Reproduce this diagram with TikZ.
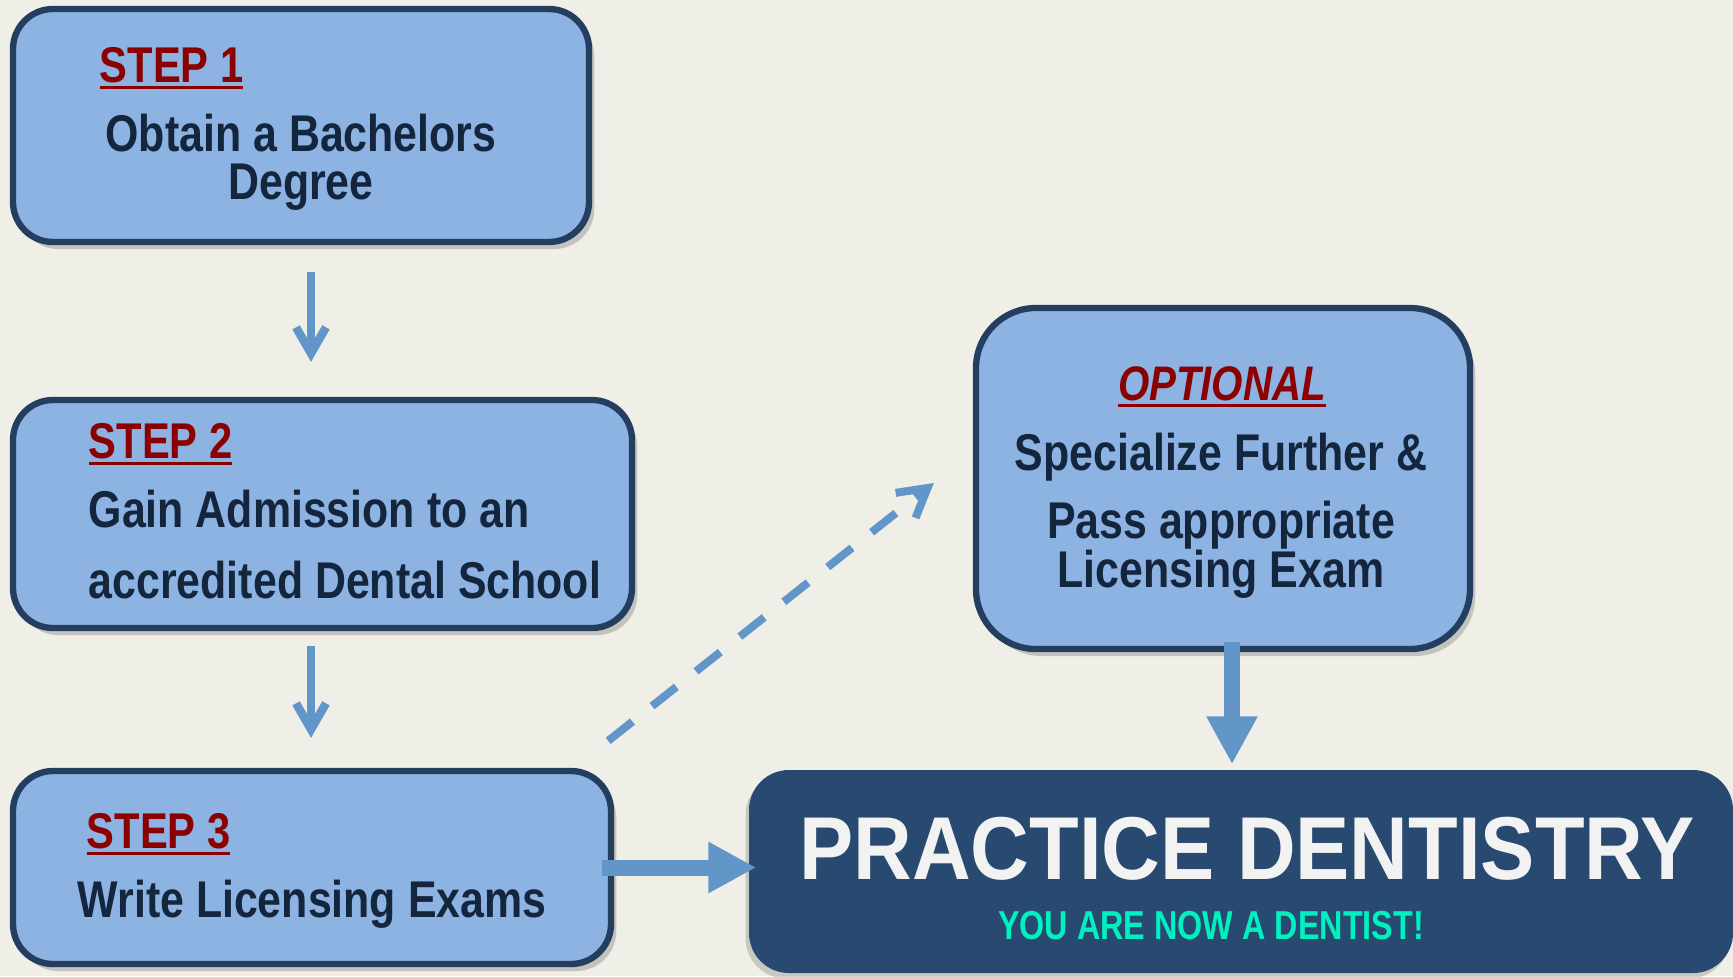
\documentclass[tikz,border=0pt]{standalone}
\usepackage{fontspec}
\setmainfont{Liberation Sans}
\newfontfamily\stepfont[FakeStretch=0.83]{Liberation Sans}
\newfontfamily\titlefont[FakeStretch=0.91]{Liberation Sans}
\newfontfamily\subfont[FakeStretch=0.8]{Liberation Sans}
\usetikzlibrary{arrows.meta,shadows}
\definecolor{bgcol}{RGB}{240,239,231}
\definecolor{boxfill}{RGB}{141,179,226}
\definecolor{boxline}{RGB}{36,62,96}
\definecolor{darkbox}{RGB}{40,74,112}
\definecolor{arrowcol}{RGB}{98,150,201}
\definecolor{steptext}{RGB}{139,0,0}
\definecolor{bodytext}{RGB}{20,37,62}
\definecolor{mintcol}{RGB}{0,240,192}
\newcommand{\stepline}[1]{\setbox0\hbox{#1}\rlap{\rule[-2pt]{\wd0}{0.85pt}}\box0}
\begin{document}
\begin{tikzpicture}[
  stepbox/.style={draw=boxline, line width=1.8pt, fill=boxfill, rounded corners=0.4cm,
    drop shadow={shadow xshift=1.5pt, shadow yshift=-2pt, opacity=0.4}},
  practicebox/.style={fill=darkbox, rounded corners=0.4cm,
    drop shadow={shadow xshift=-1pt, shadow yshift=-1.5pt, opacity=0.35}},
  steplabel/.style={text=steptext, inner sep=0pt, font=\stepfont\bfseries\fontsize{14.3}{17}\selectfont},
  optlabel/.style={text=steptext, inner sep=0pt, font=\stepfont\bfseries\itshape\fontsize{13.8}{17}\selectfont},
  bodyline/.style={text=bodytext, inner sep=0pt, font=\stepfont\bfseries\fontsize{14.7}{17}\selectfont},
  thinarrow/.style={draw=arrowcol, line width=0.085cm, -{Straight Barb[length=0.26cm, width=0.3cm]}},
  fatarrow/.style={draw=arrowcol, line width=0.16cm, -{Triangle[length=0.48cm, width=0.48cm]}},
  dashline/.style={draw=arrowcol, line width=0.08cm, dash pattern=on 0.31cm off 0.25cm,
    -{Straight Barb[length=0.28cm, width=0.32cm]}}]
\useasboundingbox (0,0) rectangle (17.33,-9.76);
\fill[bgcol] (0,0) rectangle (17.33,-9.76);

% boxes
\node[stepbox, minimum width=5.76cm, minimum height=2.33cm] (box1) at (3.01,-1.255) {};
\node[stepbox, minimum width=6.19cm, minimum height=2.28cm] (box2) at (3.225,-5.14) {};
\node[stepbox, minimum width=5.98cm, minimum height=1.93cm] (box3) at (3.12,-8.675) {};
\node[stepbox, rounded corners=0.6cm, minimum width=4.94cm, minimum height=3.41cm] (optbox) at (12.23,-4.785) {};
\node[practicebox, minimum width=9.84cm, minimum height=2.03cm] (practice) at (12.41,-8.715) {};

% texts
\node[steplabel, anchor=base west] (s1) at (0.99,-0.82) {\stepline{STEP 1}};
\node[bodyline, anchor=base] (t1a) at (3.01,-1.51) {Obtain a Bachelors};
\node[bodyline, anchor=base] (t1b) at (3.01,-1.99) {Degree};
\node[steplabel, anchor=base west] (s2) at (0.88,-4.58) {\stepline{STEP 2}};
\node[bodyline, anchor=base west] (t2a) at (0.88,-5.27) {Gain Admission to an};
\node[bodyline, anchor=base west] (t2b) at (0.88,-5.98) {accredited Dental School};
\node[steplabel, anchor=base west] (s3) at (0.86,-8.48) {\stepline{STEP 3}};
\node[bodyline, anchor=base west] (t3) at (0.77,-9.17) {Write Licensing Exams};
\node[optlabel, anchor=base] (opt) at (12.22,-4.00) {\stepline{OPTIONAL}};
\node[bodyline, anchor=base] (t4a) at (12.21,-4.70) {Specialize Further \&};
\node[bodyline, anchor=base] (t4b) at (12.21,-5.38) {Pass appropriate};
\node[bodyline, anchor=base] (t4c) at (12.21,-5.87) {Licensing Exam};
\node[anchor=base, inner sep=0pt, text={rgb,255:red,242;green,242;blue,242},
  font=\titlefont\bfseries\fontsize{25.4}{30}\selectfont] (title) at (12.47,-8.79) {PRACTICE DENTISTRY};
\node[anchor=base, inner sep=0pt, text=mintcol,
  font=\subfont\bfseries\fontsize{11.5}{14}\selectfont] (sub) at (12.11,-9.39) {YOU ARE NOW A DENTIST!};

% arrows
\draw[thinarrow, shorten <=0.27cm, shorten >=0.35cm] ([xshift=0.1cm]box1.south) -- ([xshift=0.1cm]box1.south |- box2.north);
\draw[thinarrow, shorten <=0.15cm, shorten >=0.30cm] ([xshift=-0.115cm]box2.south) -- ([xshift=-0.115cm]box2.south |- box3.north);
\draw[fatarrow, shorten <=-0.12cm, shorten >=-0.08cm] (box3.east) -- (box3.east -| practice.west);
\draw[fatarrow, shorten <=-0.1cm, shorten >=0.05cm] ([xshift=0.09cm]optbox.south) -- ([xshift=0.09cm]optbox.south |- practice.north);
\draw[dashline] ([xshift=-0.06cm, yshift=0.27cm]box3.north east) -- ([xshift=-0.39cm, yshift=-0.045cm]optbox.west);
\end{tikzpicture}
\end{document}
